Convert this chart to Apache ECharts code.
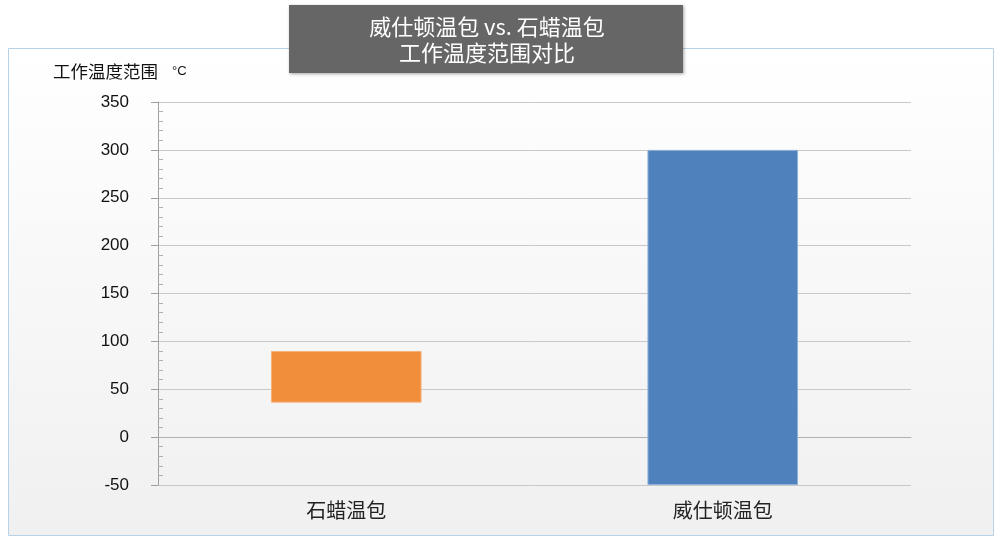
<!DOCTYPE html>
<html><head><meta charset="utf-8">
<script src="https://cdn.jsdelivr.net/npm/echarts@6/dist/echarts.min.js"></script>
<style>html,body{margin:0;padding:0;background:#fff}#c{width:1000px;height:540px}</style>
</head><body><div id="c"></div>
<script>
const categories = ['石蜡温包', '威仕顿温包'];
const lowValues = [36, -50];
const highValues = [90, 300];
const barColors = ['#f08e3c', '#4f81bd'];
const titleLines = ['威仕顿温包 vs. 石蜡温包', '工作温度范围对比'];
const yAxisName = '工作温度范围';
const yAxisUnit = '°C';

const rangeValues = highValues.map((h, i) => h - lowValues[i]);
const FONT = '"Liberation Sans","Noto Sans CJK SC",sans-serif';
const chart = echarts.init(document.getElementById('c'));
chart.setOption({
  animation: false,
  backgroundColor: '#fff',
  graphic: [
    { type: 'rect', z: -10, shape: { x: 8.5, y: 48.5, width: 985, height: 487 },
      style: { stroke: '#b9d1e8', lineWidth: 1,
        fill: new echarts.graphic.LinearGradient(0, 0, 0, 1, [{offset: 0, color: '#ffffff'}, {offset: 1, color: '#f0f0f0'}]) } },
    { type: 'rect', z: 10, shape: { x: 289, y: 5, width: 394, height: 68 },
      style: { fill: '#666666', shadowBlur: 3, shadowColor: 'rgba(0,0,0,0.35)', shadowOffsetX: 1, shadowOffsetY: 1 } },
    { type: 'text', z: 11, style: { x: 487, y: 14, text: titleLines.join('\n'), fill: '#ffffff',
      font: '22px "Noto Sans CJK SC", sans-serif', align: 'center', lineHeight: 26 } },
    { type: 'text', z: 11, style: { x: 53, y: 63, text: yAxisName, fill: '#111',
      font: '17.5px "Noto Sans CJK SC", sans-serif' } },
    { type: 'text', z: 11, style: { x: 172, y: 65, text: yAxisUnit, fill: '#111',
      font: '13px "Liberation Sans", sans-serif' } }
  ],
  grid: { left: 158, right: 89, top: 102, bottom: 55 },
  xAxis: {
    type: 'category', data: categories,
    axisLine: { lineStyle: { color: '#b0b0b0' } },
    axisTick: { show: false },
    axisLabel: { color: '#222', fontSize: 20, margin: 15, fontFamily: '"Noto Sans CJK SC", sans-serif' }
  },
  yAxis: [{
    type: 'value', min: -50, max: 350, interval: 50,
    axisLine: { show: true, lineStyle: { color: '#a0a0a0' } },
    axisTick: { show: true, length: 7, lineStyle: { color: '#a0a0a0' } },
    axisLabel: { color: '#111', fontSize: 17, margin: 29, fontFamily: FONT },
    splitLine: { lineStyle: { color: '#c8c8c8' } }
  }, {
    type: 'value', min: -50, max: 350, interval: 50, position: 'left',
    axisLine: { show: false },
    axisTick: { show: false, inside: true },
    axisLabel: { show: false },
    splitLine: { show: false },
    minorTick: { show: true, splitNumber: 5, length: 5, lineStyle: { color: '#b0b0b0' } }
  }],
  series: [{
    type: 'bar', stack: 'r', stackStrategy: 'all', barWidth: '40%',
    itemStyle: { color: 'transparent' }, silent: true,
    data: lowValues
  }, {
    type: 'bar', stack: 'r', stackStrategy: 'all', barWidth: '40%',
    data: rangeValues.map((v, i) => ({ value: v,
      itemStyle: { color: barColors[i], borderColor: i === 0 ? '#f6b27a' : '#8fb0d8', borderWidth: 1 } }))
  }]
});
</script></body></html>
